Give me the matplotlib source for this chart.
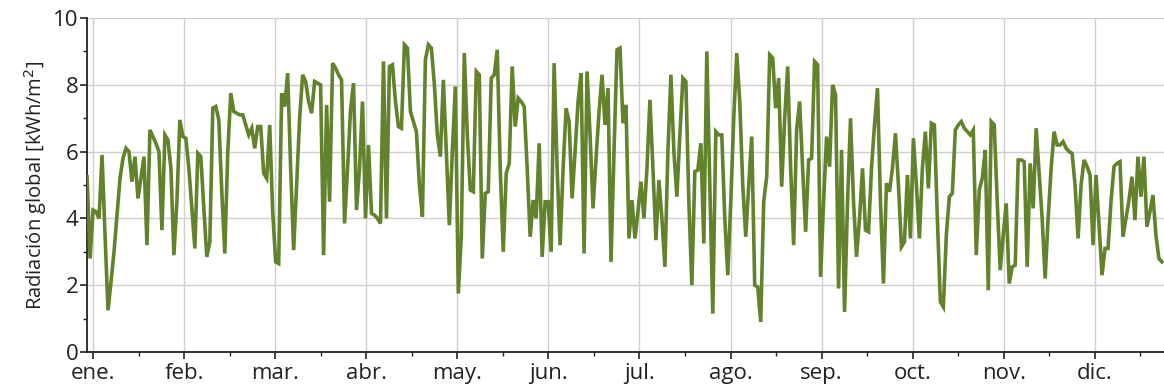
#!/usr/bin/env python3
# -*- coding: utf-8 -*-

"""
Daily global radiation over one year (kWh/m2), read off the reference chart.
"""

import numpy as np
import matplotlib.pyplot as plt

plt.rcParams['font.family'] = ['Open Sans', 'DejaVu Sans']

# DATA ########################################################################

month_labels = ["ene.", "feb.", "mar.", "abr.", "may.", "jun.",
                "jul.", "ago.", "sep.", "oct.", "nov.", "dic."]

# daily values, first point sits two days before the "ene." tick
rad_q1 = [5.25, 2.8, 4.25, 4.2, 4.0, 5.9, 3.5, 1.25, 2.1, 3.0,
          4.1, 5.2, 5.8, 6.1, 6.0, 5.1, 5.85, 4.6, 5.2, 5.85,
          3.2, 6.65, 6.45, 6.25, 6.0, 3.65, 6.5, 6.35, 5.5, 2.9,
          4.5, 6.95, 6.45, 6.4, 5.5, 4.3, 3.1, 5.95, 5.85, 4.3,
          2.85, 3.3, 7.3, 7.35, 6.95, 4.8, 2.95, 6.0, 7.75, 7.2,
          7.15, 7.1, 7.1, 6.8, 6.5, 6.7, 6.1, 6.75, 6.75, 5.35,
          5.2, 6.8, 4.2, 2.7, 2.65, 7.75, 7.35, 8.35, 5.5, 3.05,
          5.0, 7.0, 8.3, 8.1, 7.5, 7.15, 8.1, 8.05, 8.0, 2.9,
          7.4, 4.5, 8.65, 8.5, 8.3, 8.15, 3.85, 5.5, 7.25, 8.05]

rad_q2 = [4.25, 5.5, 7.5, 4.0, 6.2, 4.15, 4.1, 4.0, 3.85, 8.7,
          4.0, 8.55, 8.6, 7.5, 6.75, 6.7, 9.2, 9.1, 7.2, 6.9,
          6.6, 5.0, 4.05, 8.75, 9.2, 9.1, 8.0, 6.5, 5.85, 8.15,
          6.0, 3.8, 6.0, 7.95, 1.75, 3.5, 8.95, 6.5, 4.85, 4.8,
          8.4, 8.3, 2.8, 4.75, 4.8, 8.2, 8.3, 9.05, 5.5, 3.0,
          5.35, 5.65, 8.55, 6.75, 7.6, 7.5, 7.35, 5.5, 3.45, 4.55,
          4.0, 6.25, 2.85, 4.5, 4.5, 3.0, 8.65, 5.5, 3.2, 5.5,
          7.3, 6.9, 4.6, 6.0, 7.5, 8.35, 2.95, 8.4, 6.5, 4.3,
          5.8, 7.2, 8.3, 6.8, 7.9, 2.7, 6.0, 9.05, 9.1, 6.85]

rad_q3 = [7.4, 3.4, 4.55, 3.4, 4.2, 5.1, 4.0, 5.5, 7.55, 5.5,
          3.35, 5.15, 4.0, 2.55, 6.0, 8.3, 6.0, 4.65, 6.5, 8.2,
          8.1, 4.5, 2.0, 5.4, 5.45, 6.25, 3.25, 9.0, 5.0, 1.15,
          6.6, 6.5, 6.5, 4.0, 2.3, 4.5, 7.0, 8.95, 7.5, 5.0,
          3.45, 5.0, 6.45, 2.0, 1.95, 0.9, 4.5, 5.25, 8.9, 8.8,
          7.3, 8.2, 4.95, 7.0, 8.55, 5.5, 3.2, 6.65, 7.5, 5.5,
          3.6, 5.75, 5.8, 8.7, 8.6, 2.25, 4.5, 6.45, 5.55, 8.0,
          7.7, 1.9, 6.05, 1.2, 4.5, 7.0, 4.5, 2.85, 4.0, 5.5,
          3.65, 3.6, 5.5, 6.8, 7.9, 4.5, 2.05, 5.05, 4.8, 5.5]

rad_q4 = [6.55, 5.0, 3.15, 3.3, 5.3, 3.4, 6.4, 5.0, 3.4, 5.5,
          6.6, 4.9, 6.85, 6.8, 4.0, 1.5, 1.35, 3.5, 4.65, 4.75,
          6.65, 6.8, 6.9, 6.7, 6.6, 6.5, 6.65, 2.9, 4.85, 5.2,
          6.05, 1.85, 6.9, 6.8, 4.5, 2.45, 3.5, 4.45, 2.05, 2.55,
          2.6, 5.75, 5.75, 5.7, 2.55, 5.65, 4.3, 6.7, 5.35, 4.0,
          2.2, 4.0, 5.5, 6.6, 6.2, 6.2, 6.3, 6.1, 6.0, 5.95,
          5.0, 3.4, 5.0, 5.75, 5.55, 5.3, 3.2, 5.3, 3.8, 2.3,
          3.1, 3.1, 4.5, 5.55, 5.65, 5.7, 3.45, 4.0, 4.55, 5.25,
          3.95, 5.85, 4.65, 5.85, 3.75, 4.2, 4.7, 3.5, 2.8, 2.7]

radiation = np.array(rad_q1 + rad_q2 + rad_q3 + rad_q4)
days = np.arange(len(radiation)) - 2

# PLOT ########################################################################

fig = plt.figure(figsize=(11.64, 3.92), dpi=100)
ax = fig.add_axes([0.0748, 0.102, 0.9252, 0.852])

ax.plot(days, radiation, color='#62822c', linewidth=2.6,
        solid_joinstyle='miter', zorder=3)

month_len = 365 / 12
month_ticks = np.arange(12) * month_len
ax.set_xticks(month_ticks)
ax.set_xticklabels(month_labels)
ax.set_xticks(month_ticks + month_len / 2, minor=True)
ax.set_xlim(-2, 357.7)

ax.set_ylim(0, 10)
ax.set_yticks(np.arange(0, 11, 2))
ax.set_yticks(np.arange(1, 10, 2), minor=True)

ax.grid(True, which='major', color='#cfcfcf', linewidth=1.0, zorder=0)

for side in ['top', 'right']:
    ax.spines[side].set_visible(False)
for side in ['left', 'bottom']:
    ax.spines[side].set_color('#222222')
    ax.spines[side].set_linewidth(1.3)

ax.tick_params(which='major', direction='out', length=5, width=1.2,
               colors='#222222', labelsize=16, pad=1)
ax.tick_params(which='minor', direction='out', length=3, width=1.0,
               colors='#222222')
ax.tick_params(axis='x', which='major', pad=3)

ax.set_ylabel("Radiación global [kWh/m$^2$]", fontsize=14.5, color='#222222',
              labelpad=3)

# SAVE FILE ###################################################################

plt.savefig("out.png", dpi=100)
